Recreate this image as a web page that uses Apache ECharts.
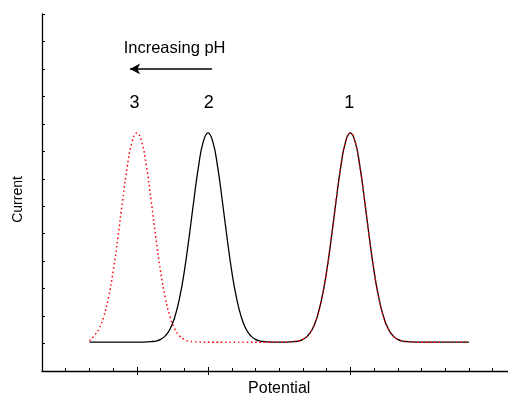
<!DOCTYPE html>
<html>
<head>
<meta charset="utf-8">
<script src="https://cdn.jsdelivr.net/npm/echarts@6/dist/echarts.min.js"></script>
<style>
html,body{margin:0;padding:0;background:#fff;}
#c{width:508px;height:396px;}
</style>
</head>
<body>
<div id="c"></div>
<script>
// Potential axis samples (arbitrary units)
const potential = [
  2.0,2.2,2.4,2.6,2.8,3.0,3.2,3.4,3.6,3.8,4.0,4.2,4.4,4.6,4.8,5.0,5.2,5.4,5.6,5.8,
  6.0,6.2,6.4,6.6,6.8,7.0,7.2,7.4,7.6,7.8,8.0,8.2,8.4,8.6,8.8,9.0,9.2,9.4,9.6,9.8,
  10.0,10.2,10.4,10.6,10.8,11.0,11.2,11.4,11.6,11.8,12.0,12.2,12.4,12.6,12.8,13.0,13.2,13.4,13.6,13.8,
  14.0,14.2,14.4,14.6,14.8,15.0,15.2,15.4,15.6,15.8,16.0,16.2,16.4,16.6,16.8,17.0,17.2,17.4,17.6,17.8,18.0
];
// Black solid curve (peaks 2 and 1)
const currentBlack = [
  1.05,1.05,1.05,1.05,1.05,1.05,1.05,1.05,1.05,1.05,1.05,1.05,
  1.06,1.07,1.09,1.15,1.28,1.53,1.97,2.66,3.63,4.86,6.21,7.46,8.35,8.67,8.35,7.46,6.21,4.86,3.63,2.66,1.97,1.53,1.28,1.15,1.09,1.07,1.06,
  1.05,1.05,1.05,
  1.06,1.07,1.09,1.15,1.28,1.53,1.97,2.66,3.63,4.86,6.21,7.46,8.35,8.67,8.35,7.46,6.21,4.86,3.63,2.66,1.97,1.53,1.28,1.15,1.09,1.07,1.06,
  1.05,1.05,1.05,1.05,1.05,1.05,1.05,1.05,1.05,1.05,1.05,1.05
];
// Red dotted curve (peaks 3 and 1)
const currentRed = [
  1.10,1.28,1.53,1.97,2.66,3.63,4.86,6.21,7.46,8.35,8.67,8.35,7.46,6.21,4.86,3.63,2.66,1.97,1.53,1.28,1.15,1.09,1.07,1.06,
  1.05,1.05,1.05,1.05,1.05,1.05,1.05,1.05,1.05,1.05,1.05,1.05,1.05,1.05,1.05,1.05,1.05,1.05,
  1.06,1.07,1.09,1.15,1.28,1.53,1.97,2.66,3.63,4.86,6.21,7.46,8.35,8.67,8.35,7.46,6.21,4.86,3.63,2.66,1.97,1.53,1.28,1.15,1.09,1.07,1.06,
  1.05,1.05,1.05,1.05,1.05,1.05,1.05,1.05,1.05,1.05,1.05,1.05
];
// Peak markers and annotation
const peakLabels = ['3', '2', '1'];
const peakLabelX = [3.9, 7.03, 12.95];
const peakLabelY = 9.75;
const annotationText = 'Increasing pH';
const annotationPos = [5.59, 11.74];
const arrowFrom = [7.17, 11.0];
const arrowTo = [3.71, 11.0];
const majorTicks = [4, 7, 13];

const FONT = "'Liberation Sans', Arial, sans-serif";
const chart = echarts.init(document.getElementById('c'), null, {renderer: 'canvas'});

const labelData = peakLabels.map((t, i) => ({value: [peakLabelX[i], peakLabelY, t], label: {fontSize: 18}}));
labelData.push({value: [annotationPos[0], annotationPos[1], annotationText], label: {fontSize: 16.5}});

const baseX = {
  type: 'value', gridIndex: 0, min: 0, max: 20, position: 'bottom',
  splitLine: {show: false}, axisLabel: {show: false}
};

chart.setOption({
  animation: false,
  grid: {left: 42, right: -8.4, top: 14, bottom: 25, containLabel: false, outerBoundsMode: 'none'},
  xAxis: [
    Object.assign({}, baseX, {
      interval: 1,
      name: 'Potential', nameLocation: 'middle', nameGap: 10,
      nameTextStyle: {fontFamily: FONT, fontSize: 16, color: '#000', verticalAlign: 'top'},
      axisLine: {show: true, lineStyle: {color: '#000', width: 1.3}},
      axisTick: {show: true, inside: true, length: 3, lineStyle: {color: '#000', width: 1}}
    }),
    Object.assign({}, baseX, {
      axisLine: {show: false},
      axisTick: {show: true, inside: true, length: 4, customValues: majorTicks, lineStyle: {color: '#000', width: 1}}
    }),
    Object.assign({}, baseX, {
      axisLine: {show: false},
      axisTick: {show: true, inside: false, length: 4, customValues: majorTicks, lineStyle: {color: '#000', width: 1}}
    })
  ],
  yAxis: {
    type: 'value', min: 0, max: 13, interval: 1,
    name: 'Current', nameLocation: 'middle', nameGap: 17,
    nameTextStyle: {fontFamily: FONT, fontSize: 14, color: '#000', padding: [0, 14, 0, 0]},
    axisLine: {show: true, lineStyle: {color: '#000', width: 1.3}},
    axisTick: {show: true, inside: true, length: 3, lineStyle: {color: '#000', width: 1}},
    axisLabel: {show: false},
    splitLine: {show: false}
  },
  series: [
    {
      type: 'line', name: 'black', xAxisIndex: 0,
      data: potential.map((x, i) => [x, currentBlack[i]]),
      showSymbol: false, smooth: 0.5,
      lineStyle: {color: '#000', width: 1.3},
      markLine: {
        silent: true, symbol: ['none', 'arrow'], symbolSize: [8, 10],
        label: {show: false},
        lineStyle: {color: '#000', width: 1.5, type: 'solid'},
        data: [[{coord: arrowFrom}, {coord: arrowTo}]]
      },
      z: 2
    },
    {
      type: 'line', name: 'red', xAxisIndex: 0,
      data: potential.map((x, i) => [x, currentRed[i]]),
      showSymbol: false, smooth: 0.5,
      lineStyle: {color: '#ff0000', width: 1.5, type: [1.5, 2.8]},
      z: 3
    },
    {
      type: 'scatter', xAxisIndex: 0, symbolSize: 0, silent: true,
      itemStyle: {opacity: 1, color: '#000'},
      data: labelData,
      label: {
        show: true, position: 'inside', color: '#000', fontFamily: FONT,
        textBorderWidth: 0, opacity: 1,
        formatter: p => p.value[2]
      },
      z: 4
    }
  ]
});
</script>
</body>
</html>
